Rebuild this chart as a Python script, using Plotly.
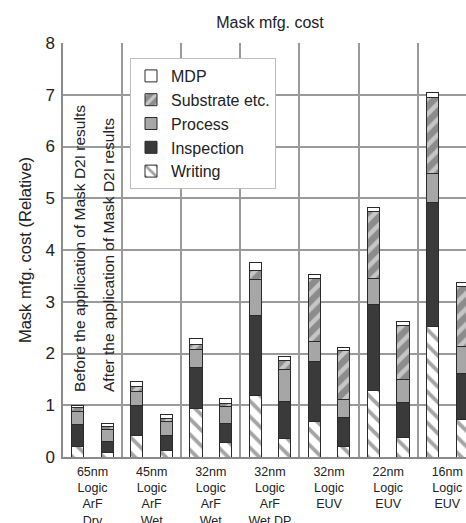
import plotly.graph_objects as go

# ---- data ----
group_labels = [
    ["65nm", "Logic", "ArF", "Dry"],
    ["45nm", "Logic", "ArF", "Wet"],
    ["32nm", "Logic", "ArF", "Wet"],
    ["32nm", "Logic", "ArF", "Wet DP"],
    ["32nm", "Logic", "EUV"],
    ["22nm", "Logic", "EUV"],
    ["16nm", "Logic", "EUV"],
]
y_ticks = [0, 1, 2, 3, 4, 5, 6, 7, 8]

writing_before = [0.20, 0.42, 0.94, 1.18, 0.68, 1.29, 2.52]
inspection_before = [0.42, 0.57, 0.79, 1.55, 1.16, 1.66, 2.39]
process_before = [0.25, 0.27, 0.35, 0.70, 0.40, 0.49, 0.57]
substrate_before = [0.08, 0.10, 0.10, 0.18, 1.20, 1.30, 1.47]
mdp_before = [0.05, 0.10, 0.11, 0.14, 0.08, 0.08, 0.09]

writing_after = [0.08, 0.12, 0.28, 0.35, 0.21, 0.37, 0.72]
inspection_after = [0.21, 0.29, 0.36, 0.72, 0.55, 0.69, 0.90]
process_after = [0.24, 0.28, 0.33, 0.63, 0.35, 0.43, 0.51]
substrate_after = [0.06, 0.06, 0.07, 0.17, 0.94, 1.06, 1.17]
mdp_after = [0.06, 0.08, 0.09, 0.08, 0.07, 0.07, 0.08]

before_note = "Before the application of Mask D2I results"
after_note = "After the application of Mask D2I results"

# ---- figure ----
n = len(group_labels)
idx = list(range(n))
x_before = [i - 0.25 for i in idx]
x_after = [i + 0.25 for i in idx]
xs = x_before + x_after
boundaries = [i - 0.5 for i in range(n + 1)]

FONT = "Liberation Sans, Arial, sans-serif"
OUTLINE = dict(color="#2a2a2a", width=1)
GRID = "#9a9a9a"

series = [
    ("Writing", writing_before, writing_after,
     dict(color="white", line=OUTLINE,
          pattern=dict(shape="\\", fgcolor="#4a4a4a", bgcolor="white", size=11, solidity=0.35))),
    ("Inspection", inspection_before, inspection_after,
     dict(color="#3a3a3a", line=OUTLINE)),
    ("Process", process_before, process_after,
     dict(color="#a6a6a6", line=OUTLINE)),
    ("Substrate etc.", substrate_before, substrate_after,
     dict(color="#8c8c8c", line=OUTLINE,
          pattern=dict(shape="/", fgcolor="white", bgcolor="#8c8c8c", size=11, solidity=0.4))),
    ("MDP", mdp_before, mdp_after,
     dict(color="white", line=OUTLINE)),
]

fig = go.Figure()
for name, b, a, marker in series:
    fig.add_trace(go.Bar(
        x=xs, y=b + a, name=name, width=0.205, marker=marker,
        legendgroup=name,
    ))

annotations = [
    dict(x=-0.22, y=1.22, xref="x", yref="y", xanchor="center", yanchor="bottom",
         text=before_note, textangle=-90, showarrow=False,
         font=dict(family=FONT, size=15.5, color="#222")),
    dict(x=0.28, y=1.22, xref="x", yref="y", xanchor="center", yanchor="bottom",
         text=after_note, textangle=-90, showarrow=False,
         font=dict(family=FONT, size=15.5, color="#222")),
]

fig.update_layout(
    width=466, height=523,
    margin=dict(l=63, r=0, t=43, b=66, autoexpand=False),
    paper_bgcolor="white", plot_bgcolor="white",
    barmode="stack",
    font=dict(family=FONT, size=16, color="#222"),
    title=dict(text="Mask mfg. cost", x=270 / 466, xref="container", xanchor="center",
               y=1 - 22 / 523, yref="container", yanchor="middle",
               font=dict(family=FONT, size=16, color="#222")),
    legend=dict(
        x=(130 - 63) / 403, y=(457 - 58) / 414, xanchor="left", yanchor="top",
        bgcolor="white", bordercolor="#bdbdbd", borderwidth=1,
        traceorder="reversed", tracegroupgap=0,
        font=dict(family=FONT, size=16, color="#222"),
    ),
    annotations=annotations,
    xaxis=dict(
        range=[-0.5, -0.5 + 403 / 59.12],
        tickmode="array", tickvals=idx,
        ticktext=["<br>".join(lines) for lines in group_labels],
        tickfont=dict(family=FONT, size=12.5, color="#222"),
        ticks="", ticklabelstandoff=2, automargin=False,
        showgrid=False,
        minor=dict(tickmode="array", tickvals=boundaries, showgrid=True,
                   gridcolor=GRID, gridwidth=1.5, ticks=""),
        zeroline=False, showline=True, linecolor="#8a8a8a", linewidth=1.5,
        fixedrange=True,
    ),
    yaxis=dict(
        range=[0, 8], tickvals=y_ticks, ticks="", ticklabelstandoff=3,
        automargin=False,
        showgrid=True, gridcolor=GRID, gridwidth=1.5,
        zeroline=False, showline=True, linecolor="#8a8a8a", linewidth=1.5,
        title=dict(text="Mask mfg. cost (Relative)", standoff=10,
                   font=dict(family=FONT, size=16.5, color="#222")),
        tickfont=dict(family=FONT, size=17, color="#222"),
    ),
)

fig.write_html("out.html")
